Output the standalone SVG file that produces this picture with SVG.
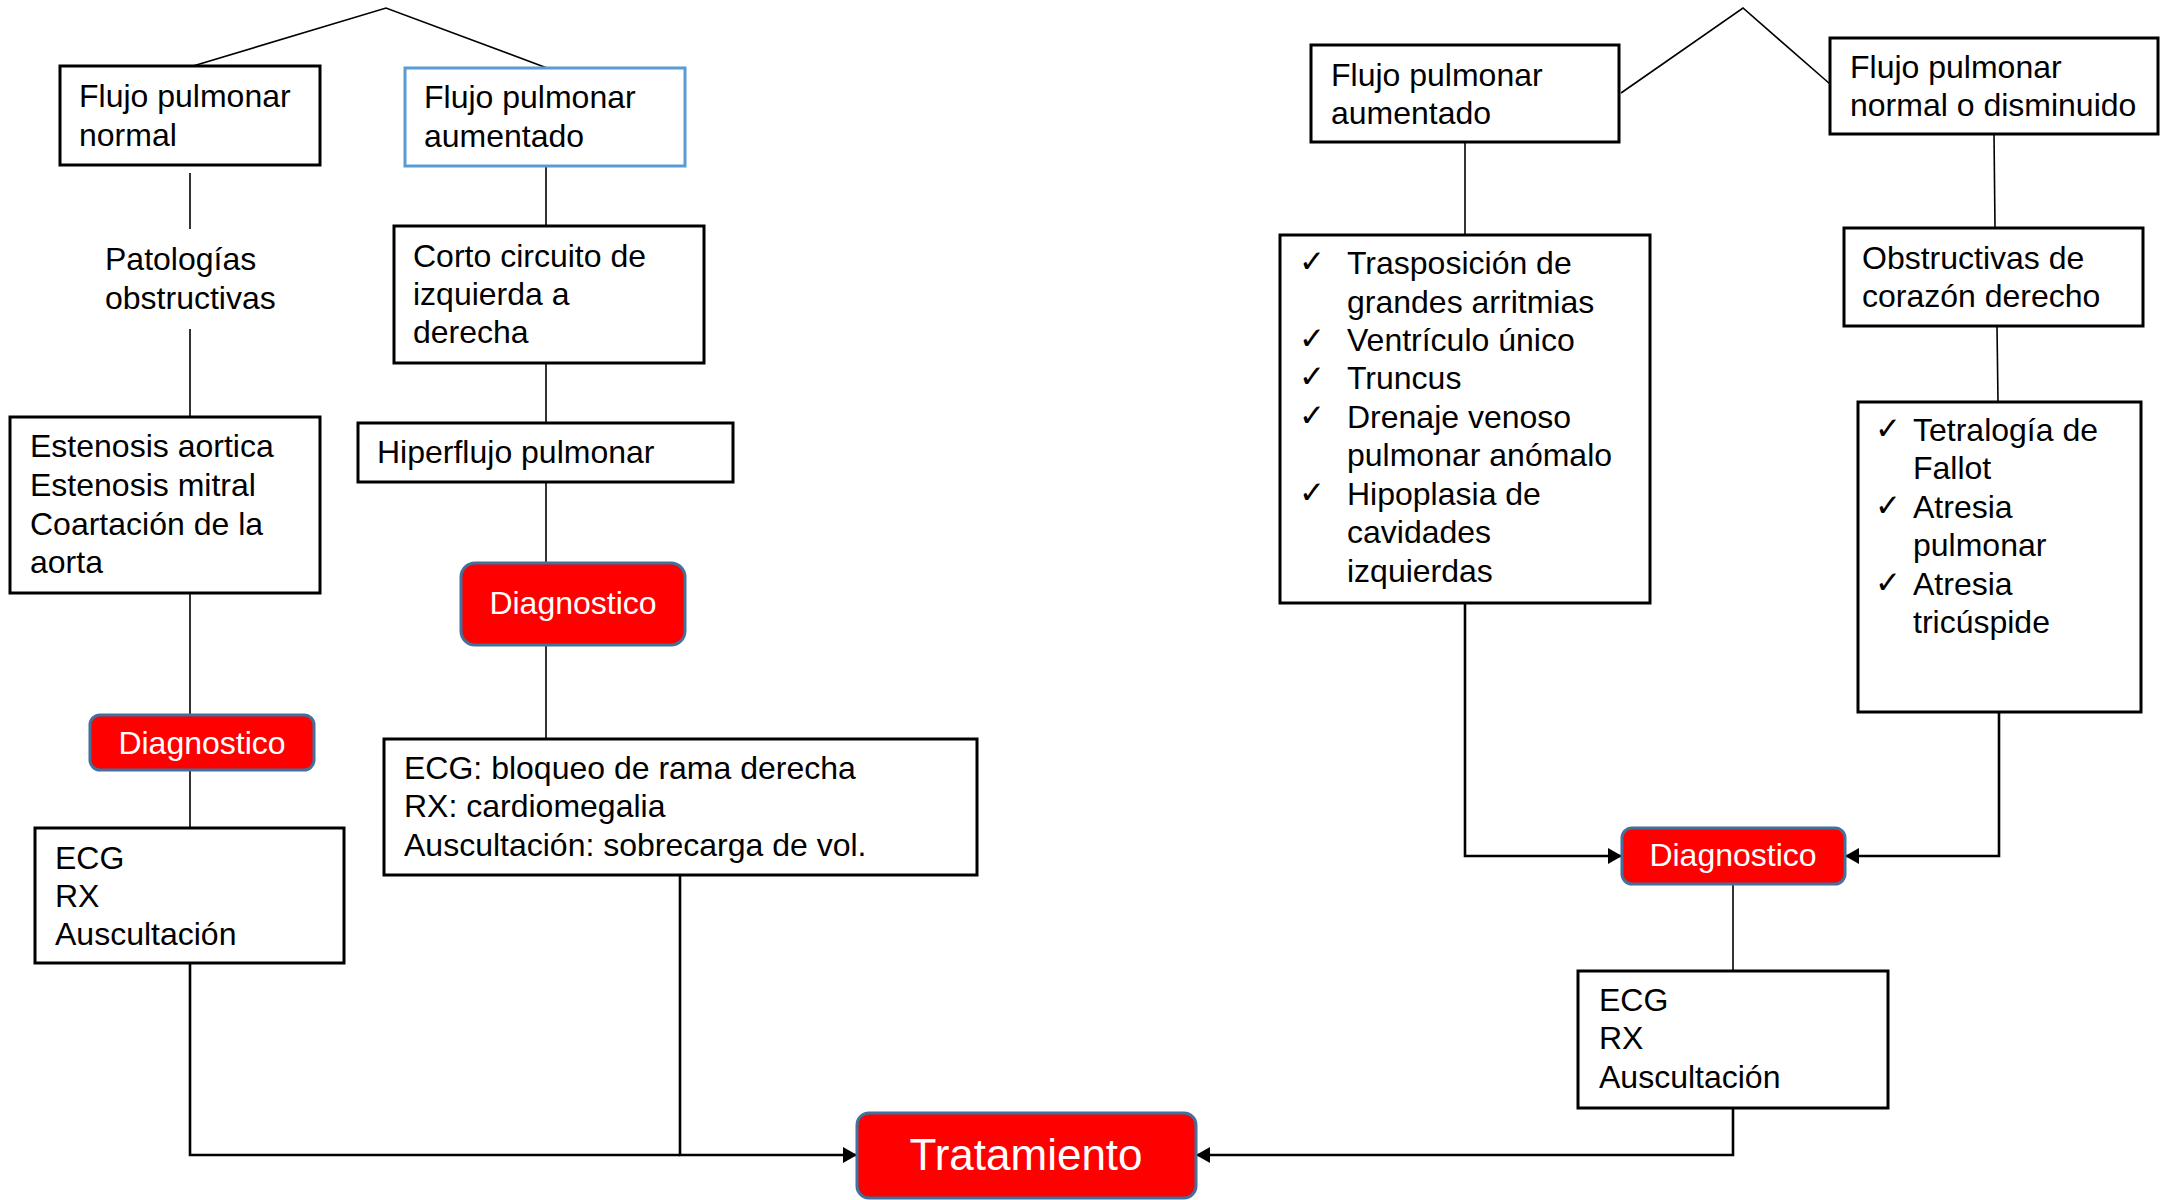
<svg xmlns="http://www.w3.org/2000/svg" width="2172" height="1200" viewBox="0 0 2172 1200">
<defs>
<style>
.box{fill:#fff;stroke:#000;stroke-width:3}
.blue{fill:#fff;stroke:#5B9BD5;stroke-width:3}
.red{fill:#FF0000;stroke:#41719C;stroke-width:3}
.t{font-family:"Liberation Sans",Arial,sans-serif;font-size:32px;fill:#000}
.w{font-family:"Liberation Sans",Arial,sans-serif;font-size:32px;fill:#fff;text-anchor:middle}
.big{font-family:"Liberation Sans",Arial,sans-serif;font-size:44px;fill:#fff;text-anchor:middle}
.ck{font-family:"DejaVu Sans",sans-serif;font-size:31px;fill:#000}
.thin{fill:none;stroke:#000;stroke-width:1.6}
.thick{fill:none;stroke:#000;stroke-width:2.6}
</style>
<marker id="arr" viewBox="0 0 14 16" refX="14" refY="8" markerWidth="14" markerHeight="16" markerUnits="userSpaceOnUse" orient="auto">
<path d="M0,0 L14,8 L0,16 z" fill="#000"/>
</marker>
</defs>
<rect width="2172" height="1200" fill="#fff"/>

<g id="connectors">
<polyline class="thin" points="193,66 386,8 547,68"/>
<line class="thin" x1="190" y1="173" x2="190" y2="229"/>
<line class="thin" x1="190" y1="329" x2="190" y2="417"/>
<line class="thin" x1="190" y1="593" x2="190" y2="715"/>
<line class="thin" x1="190" y1="770" x2="190" y2="828"/>
<line class="thin" x1="546" y1="166" x2="546" y2="226"/>
<line class="thin" x1="546" y1="363" x2="546" y2="423"/>
<line class="thin" x1="546" y1="482" x2="546" y2="563"/>
<line class="thin" x1="546" y1="645" x2="546" y2="739"/>
<polyline class="thick" points="190,963 190,1155 680,1155"/>
<polyline class="thick" points="680,875 680,1155 857,1155" marker-end="url(#arr)"/>
<polyline class="thin" points="1621,93 1743,8 1830,84"/>
<line class="thin" x1="1465" y1="142" x2="1465" y2="235"/>
<line class="thin" x1="1994" y1="134" x2="1995" y2="228"/>
<line class="thin" x1="1997" y1="326" x2="1998" y2="402"/>
<polyline class="thick" points="1465,603 1465,856 1622,856" marker-end="url(#arr)"/>
<polyline class="thick" points="1999,712 1999,856 1845,856" marker-end="url(#arr)"/>
<line class="thin" x1="1733" y1="884" x2="1733" y2="971"/>
<polyline class="thick" points="1733,1108 1733,1155 1196,1155" marker-end="url(#arr)"/>
</g>

<g id="flujo-normal">
<rect class="box" x="60" y="66" width="260" height="99"/>
<text class="t" x="79" y="107">Flujo pulmonar</text>
<text class="t" x="79" y="146">normal</text>
</g>

<g id="patologias">
<text class="t" x="105" y="270">Patologías</text>
<text class="t" x="105" y="309">obstructivas</text>
</g>

<g id="estenosis">
<rect class="box" x="10" y="417" width="310" height="176"/>
<text class="t" x="30" y="457">Estenosis aortica</text>
<text class="t" x="30" y="496">Estenosis mitral</text>
<text class="t" x="30" y="535">Coartación de la</text>
<text class="t" x="30" y="573">aorta</text>
</g>

<g id="diag-left">
<rect class="red" x="90" y="715" width="224" height="55" rx="10"/>
<text class="w" x="202" y="754">Diagnostico</text>
</g>

<g id="ecg-left">
<rect class="box" x="35" y="828" width="309" height="135"/>
<text class="t" x="55" y="869">ECG</text>
<text class="t" x="55" y="907">RX</text>
<text class="t" x="55" y="945">Auscultación</text>
</g>

<g id="flujo-aumentado-left">
<rect class="blue" x="405" y="68" width="280" height="98"/>
<text class="t" x="424" y="108">Flujo pulmonar</text>
<text class="t" x="424" y="147">aumentado</text>
</g>

<g id="corto-circuito">
<rect class="box" x="394" y="226" width="310" height="137"/>
<text class="t" x="413" y="267">Corto circuito de</text>
<text class="t" x="413" y="305">izquierda a</text>
<text class="t" x="413" y="343">derecha</text>
</g>

<g id="hiperflujo">
<rect class="box" x="358" y="423" width="375" height="59"/>
<text class="t" x="377" y="463">Hiperflujo pulmonar</text>
</g>

<g id="diag-middle">
<rect class="red" x="461" y="563" width="224" height="82" rx="14"/>
<text class="w" x="573" y="614">Diagnostico</text>
</g>

<g id="ecg-middle">
<rect class="box" x="384" y="739" width="593" height="136"/>
<text class="t" x="404" y="779">ECG: bloqueo de rama derecha</text>
<text class="t" x="404" y="817">RX: cardiomegalia</text>
<text class="t" x="404" y="856">Auscultación: sobrecarga de vol.</text>
</g>

<g id="tratamiento">
<rect class="red" x="857" y="1113" width="339" height="85" rx="12"/>
<text class="big" x="1026" y="1170">Tratamiento</text>
</g>

<g id="flujo-aumentado-right">
<rect class="box" x="1311" y="45" width="308" height="97"/>
<text class="t" x="1331" y="86">Flujo pulmonar</text>
<text class="t" x="1331" y="124">aumentado</text>
</g>

<g id="lista-aumentado">
<rect class="box" x="1280" y="235" width="370" height="368"/>
<text class="ck" x="1299" y="272">✓</text>
<text class="t" x="1347" y="274">Trasposición de</text>
<text class="t" x="1347" y="313">grandes arritmias</text>
<text class="ck" x="1299" y="349">✓</text>
<text class="t" x="1347" y="351">Ventrículo único</text>
<text class="ck" x="1299" y="387">✓</text>
<text class="t" x="1347" y="389">Truncus</text>
<text class="ck" x="1299" y="426">✓</text>
<text class="t" x="1347" y="428">Drenaje venoso</text>
<text class="t" x="1347" y="466">pulmonar anómalo</text>
<text class="ck" x="1299" y="503">✓</text>
<text class="t" x="1347" y="505">Hipoplasia de</text>
<text class="t" x="1347" y="543">cavidades</text>
<text class="t" x="1347" y="582">izquierdas</text>
</g>

<g id="flujo-normal-disminuido">
<rect class="box" x="1830" y="38" width="328" height="96"/>
<text class="t" x="1850" y="78">Flujo pulmonar</text>
<text class="t" x="1850" y="116">normal o disminuido</text>
</g>

<g id="obstructivas">
<rect class="box" x="1844" y="228" width="299" height="98"/>
<text class="t" x="1862" y="269">Obstructivas de</text>
<text class="t" x="1862" y="307">corazón derecho</text>
</g>

<g id="lista-normal">
<rect class="box" x="1858" y="402" width="283" height="310"/>
<text class="ck" x="1875" y="439">✓</text>
<text class="t" x="1913" y="441">Tetralogía de</text>
<text class="t" x="1913" y="479">Fallot</text>
<text class="ck" x="1875" y="516">✓</text>
<text class="t" x="1913" y="518">Atresia</text>
<text class="t" x="1913" y="556">pulmonar</text>
<text class="ck" x="1875" y="593">✓</text>
<text class="t" x="1913" y="595">Atresia</text>
<text class="t" x="1913" y="633">tricúspide</text>
</g>

<g id="diag-right">
<rect class="red" x="1622" y="828" width="223" height="56" rx="10"/>
<text class="w" x="1733" y="866">Diagnostico</text>
</g>

<g id="ecg-right">
<rect class="box" x="1578" y="971" width="310" height="137"/>
<text class="t" x="1599" y="1011">ECG</text>
<text class="t" x="1599" y="1088">Auscultación</text>
<text class="t" x="1599" y="1049">RX</text>
</g>
</svg>
